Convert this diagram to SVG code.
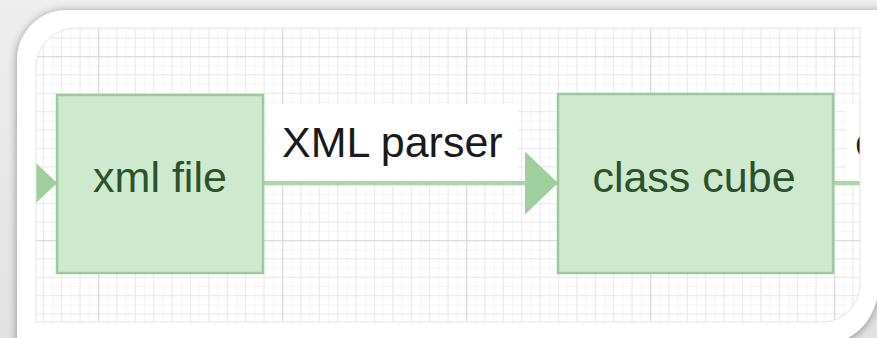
<svg xmlns="http://www.w3.org/2000/svg" width="877" height="338" viewBox="0 0 877 338">
  <style>
    .node rect { fill: #cfe9cf; stroke: #9dca9d; stroke-width: 2.5; }
    .node text { font-family: "Liberation Sans", Arial, sans-serif; font-size: 43px; fill: #2a522b; text-anchor: middle; }
    .edge { stroke: #aad6aa; stroke-width: 4; fill: none; }
    .label { font-family: "Liberation Sans", Arial, sans-serif; font-size: 43px; fill: #1a1a1a; }
    .label-bg { fill: #ffffff; }
  </style>
  <defs>
    <linearGradient id="bgGrad" x1="0" y1="0" x2="0" y2="1">
      <stop offset="0" stop-color="#eeeeee"/>
      <stop offset="1" stop-color="#e2e2e2"/>
    </linearGradient>
    <filter id="frameShadow" x="-10%" y="-10%" width="120%" height="130%">
      <feDropShadow dx="0" dy="1" stdDeviation="4.5" flood-color="#000000" flood-opacity="0.4"/>
    </filter>
    <!-- fine, minor and major grid lines -->
    <pattern id="gridFine" patternUnits="userSpaceOnUse" x="6" y="10" width="9.2" height="9.2">
      <rect x="0" y="0" width="1" height="9.2" fill="#f6f4f6"/>
      <rect x="0" y="0" width="9.2" height="1" fill="#f6f4f6"/>
    </pattern>
    <pattern id="gridMinor" patternUnits="userSpaceOnUse" x="6" y="19.2" width="18.4" height="18.4">
      <rect x="0" y="0" width="1" height="18.4" fill="#ebe9eb"/>
      <rect x="0" y="0" width="18.4" height="1" fill="#ebe9eb"/>
    </pattern>
    <pattern id="gridMajor" patternUnits="userSpaceOnUse" x="98" y="56" width="184" height="184">
      <rect x="0" y="0" width="1.3" height="184" fill="#dcdcdc"/>
      <rect x="0" y="0" width="184" height="1.3" fill="#dcdcdc"/>
    </pattern>
    <clipPath id="canvasClip">
      <path d="M36,68 A40,40 0 0 1 76,28 H860 V284 A38,38 0 0 1 822,322 H36 Z"/>
    </clipPath>
    <marker id="arrow" markerUnits="userSpaceOnUse" viewBox="0 0 33 63" refX="33" refY="31.5" markerWidth="33" markerHeight="63" orient="auto">
      <path d="M0,0 L33,31.5 L0,63 Z" fill="#9fcf9f"/>
    </marker>
  </defs>

  <!-- backdrop and white frame -->
  <rect x="0" y="0" width="877" height="338" fill="url(#bgGrad)"/>
  <path d="M17,350 V60 A50,50 0 0 1 67,10 H880 V276 Q878,332 832,344 Z" fill="#ffffff" filter="url(#frameShadow)"/>

  <!-- drawing canvas -->
  <g clip-path="url(#canvasClip)">
    <rect x="36" y="28" width="824" height="294" fill="#ffffff"/>
    <rect x="36" y="28" width="824" height="294" fill="url(#gridFine)"/>
    <rect x="36" y="28" width="824" height="294" fill="url(#gridMinor)"/>
    <rect x="36" y="28" width="824" height="294" fill="url(#gridMajor)"/>

    <!-- label backgrounds -->
    <rect class="label-bg" x="266" y="104" width="252" height="76"/>
    <rect class="label-bg" x="846" y="104" width="40" height="76"/>

    <g id="connectors">
      <line class="edge" x1="0" y1="183" x2="57" y2="183" marker-end="url(#arrow)"/>
      <line class="edge" x1="263" y1="183" x2="558" y2="183" marker-end="url(#arrow)"/>
      <line class="edge" x1="833" y1="183" x2="900" y2="183"/>
      <text class="label" x="282" y="157">XML parser</text>
      <text class="label" x="855" y="157">c</text>
    </g>

    <g id="node-xml-file" class="node">
      <rect x="57" y="95" width="206" height="178"/>
      <text x="160" y="192">xml file</text>
    </g>

    <g id="node-class-cube" class="node">
      <rect x="558" y="94" width="275" height="179"/>
      <text x="694" y="192">class cube</text>
    </g>
  </g>
  <path d="M36,68 A40,40 0 0 1 76,28 H860 V284 A38,38 0 0 1 822,322 H36 Z" fill="none" stroke="#e4e4e4" stroke-width="1"/>
</svg>
